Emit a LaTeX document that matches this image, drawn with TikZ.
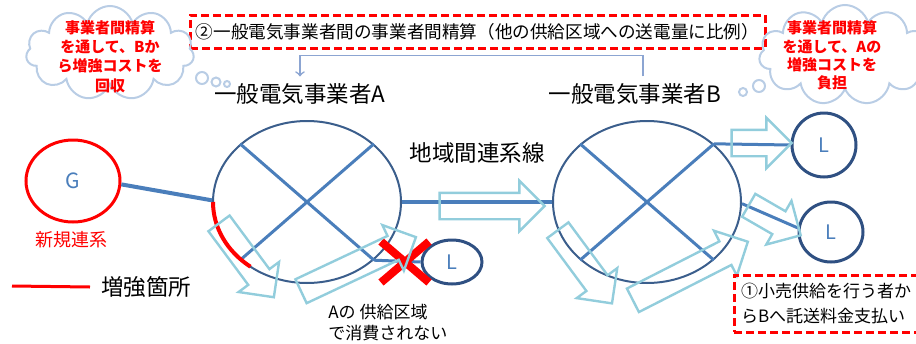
\documentclass[tikz,border=0pt]{standalone}
\usepackage{fontspec}
\setmainfont{Noto Sans CJK JP}
\usetikzlibrary{positioning}
\usetikzlibrary{calc}
\usetikzlibrary{shapes.geometric, shapes.arrows, shapes.symbols, shapes.misc}
\definecolor{lineblue}{RGB}{74,126,187}
\definecolor{ringblue}{RGB}{59,94,140}
\definecolor{loadblue}{RGB}{47,80,130}
\definecolor{flowcyan}{RGB}{146,205,220}
\definecolor{cloudblue}{RGB}{185,205,229}
\definecolor{pointblue}{RGB}{140,165,210}

\begin{document}
\begin{tikzpicture}[x=0.5pt, y=-0.5pt,
    area/.style={ellipse, draw=ringblue, line width=1pt, minimum width=94pt, minimum height=81pt, inner sep=0pt},
    load/.style={ellipse, draw=loadblue, line width=1.5pt, inner sep=0pt, text=lineblue, font=\fontsize{10}{12}\selectfont},
    tie/.style={draw=lineblue, line width=1.5pt},
    flow/.style={single arrow, draw=flowcyan, line width=1.2pt, inner xsep=0pt, inner ysep=6pt, single arrow head extend=6pt, single arrow tip angle=90},
    memo/.style={cloud, cloud puffs=11, cloud ignores aspect, draw=cloudblue, line width=1pt},
    note/.style={draw=red, line width=1.5pt, dash pattern=on 4pt off 2pt},
    big/.style={font=\fontsize{11.25}{13}\selectfont}]
    \useasboundingbox (0,0) rectangle (916,343);

    % supply areas A and B
    \node[area] (A) at (307,202) {};
    \node[area] (B) at (647,202) {};
    \draw[tie] (A.139) -- (A.-41);
    \draw[tie] (A.41) -- (A.-139);
    \draw[tie] (B.139) -- (B.-41);
    \draw[tie] (B.41) -- (B.-139);
    \draw[red, line width=2pt] ([xshift=-47pt]A.center) arc[start angle=180, end angle=233, x radius=47pt, y radius=40.5pt];

    % generator
    \node[ellipse, draw=red, line width=1.5pt, minimum width=47pt, minimum height=41pt, text=lineblue, font=\fontsize{10.5}{12}\selectfont] (G) at (73,181) {G};
    \node[red, font=\fontsize{9}{11}\selectfont] (newlink) at (71,240) {新規連系};
    \draw[line width=2pt, lineblue] (G.-4) -- (A.179);
    \draw[line width=1.8pt, lineblue] (A.0) -- (B.180);

    % loads
    \node[load, minimum width=30pt, minimum height=22pt] (LA) at (452,262) {L};
    \node[load, minimum width=32pt, minimum height=32pt] (L1) at (824,145) {L};
    \node[load, minimum width=32pt, minimum height=30pt] (L2) at (831,232) {L};
    \draw[tie] (A.-41) -- (LA.west);
    \draw[tie] (B.41) -- (L1.west);
    \draw[tie] (B.-1) -- (L2.173);
    \node[cross out, draw=red, line width=4pt, minimum width=20pt, minimum height=16.5pt, inner sep=0pt] (cut) at (405,262) {};

    % power flows
    \node[flow, minimum height=52.5pt] (fIC) at (485.5,206) {};
    \node[flow, minimum height=46pt, rotate=-53.4] (fA1) at (242.5,255) {};
    \node[flow, minimum height=63.5pt, rotate=25.2] (fA2) at (352.5,267) {};
    \node[flow, minimum height=45.5pt, rotate=-53.5] (fB1) at (581,261.5) {};
    \node[flow, minimum height=64.5pt, rotate=27] (fB2) at (684.5,274) {};
    \node[flow, minimum height=30pt] (fB3) at (755,143) {};
    \node[flow, minimum height=30pt, rotate=-30] (fB4) at (769,217) {};

    % labels
    \node[big] (labA) at (300,94) {一般電気事業者A};
    \node[big] (labB) at (635,94) {一般電気事業者B};
    \node[big] (tieline) at (477,153) {地域間連系線};
    \node[anchor=north west, align=left, inner sep=0pt, font=\fontsize{8.5}{10.5}\selectfont] (local) at (328,304) {Aの 供給区域\\で消費されない};
    \node[big, anchor=west] (legend) at (94,287) {増強箇所};
    \draw[red, line width=1.5pt] (12,286) -- ([xshift=-2pt]legend.west);

    % settlement
    \node[note, minimum width=287.5pt, minimum height=16.5pt, inner sep=0pt, font=\fontsize{8.8}{10}\selectfont] (settle) at (477.5,31.5) {②一般電気事業者間の事業者間精算（他の供給区域への送電量に比例）};
    \coordinate (payer) at ([xshift=4pt]labB.north);
    \draw[pointblue, line width=0.8pt, ->] (payer) -- ++(0,-21) -| (labA.north);
    \node[note, minimum width=92pt, minimum height=28.5pt, align=left, font=\fontsize{8.5}{12.5}\selectfont] (retail) at (826,303.5) {①小売供給を行う者か\\らBへ託送料金支払い};

    % clouds
    \node[memo, minimum width=84pt, minimum height=47pt] (costB) at (110,53) {};
    \node[red, align=center, font=\bfseries\fontsize{7.5}{9.6}\selectfont] (costBtext) at (110,56.5) {事業者間精算\\を通して、Bか\\ら増強コストを\\回収};
    \foreach \bx/\by/\br in {202/78/3pt, 216/82/2.25pt, 227/84/1.5pt}
        \draw[cloudblue, line width=1pt] (\bx,\by) circle[radius=\br];
    \node[memo, minimum width=86pt, minimum height=50pt] (costA) at (845,55) {};
    \node[red, align=center, font=\bfseries\fontsize{7.5}{9.2}\selectfont] (costAtext) at (832,55.5) {事業者間精算\\を通して、Aの\\増強コストを\\負担};
    \foreach \bx/\by/\br in {759/86/3pt, 743/92/2pt}
        \draw[cloudblue, line width=1pt] (\bx,\by) circle[radius=\br];
\end{tikzpicture}
\end{document}
